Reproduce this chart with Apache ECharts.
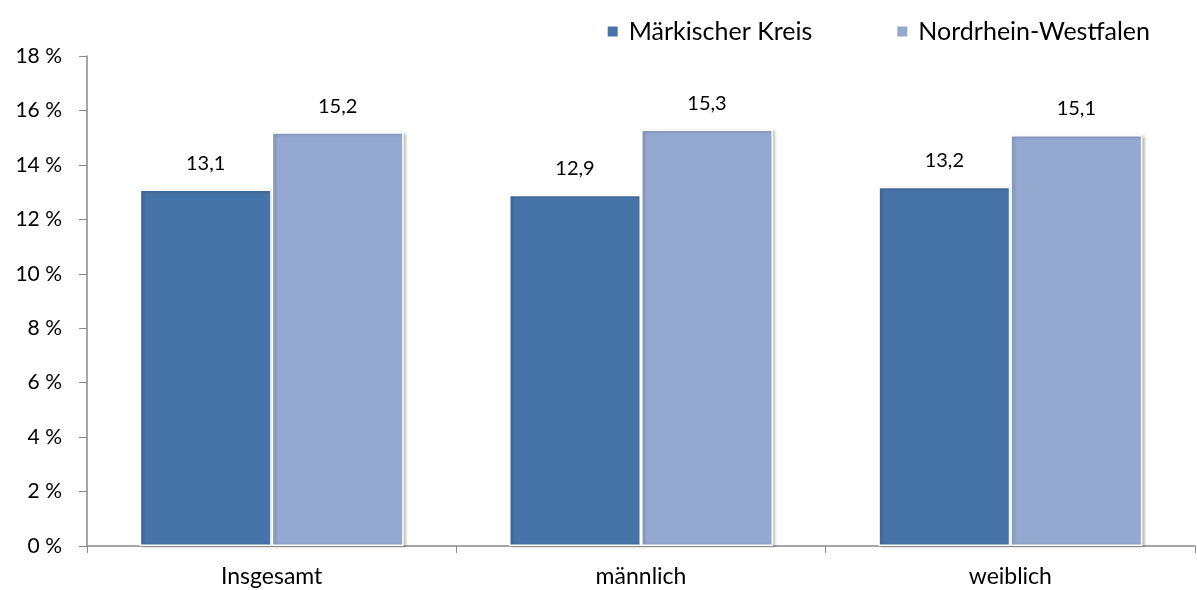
<!DOCTYPE html>
<html>
<head>
<meta charset="utf-8">
<script src="https://cdn.jsdelivr.net/npm/echarts@6/dist/echarts.min.js"></script>
<style>
  html, body { margin: 0; padding: 0; background: #fff; }
  #app { width: 1197px; height: 590px; }
</style>
</head>
<body>
<div id="app"></div>
<script>
const categories = ['Insgesamt', 'männlich', 'weiblich']
const maerkischerKreis = [13.1, 12.9, 13.2]
const nrw = [15.2, 15.3, 15.1]
const seriesNames = ['Märkischer Kreis', 'Nordrhein-Westfalen']

const font = 'Lato'
const echart = echarts.init(document.getElementById('app'))

const barStyle = (color) => ({
  color: color,
  borderColor: '#fff',
  borderWidth: 1.5,
  shadowColor: 'rgba(0,0,0,0.25)',
  shadowBlur: 3,
  shadowOffsetX: 2,
  shadowOffsetY: 1
})

const label = {
  show: true,
  position: 'top',
  distance: 16,
  fontFamily: font,
  fontSize: 20,
  color: '#000',
  formatter: (p) => p.value.toFixed(1).replace('.', ',')
}

echart.setOption({
  animation: false,
  textStyle: { fontFamily: font },
  legend: {
    top: 14,
    right: 42,
    itemWidth: 12,
    itemHeight: 12,
    itemGap: 83,
    icon: 'rect',
    textStyle: { fontFamily: font, fontSize: 25, color: '#000', padding: [0, 0, 0, 5] },
    data: seriesNames
  },
  grid: { left: 87, right: 2, top: 56, bottom: 44 },
  xAxis: {
    type: 'category',
    data: categories,
    axisLine: { lineStyle: { color: '#888', width: 1.5 } },
    axisTick: { show: true, length: 7, lineStyle: { color: '#888' } },
    axisLabel: { fontFamily: font, fontSize: 23, color: '#000', margin: 19 }
  },
  yAxis: {
    type: 'value',
    min: 0,
    max: 18,
    interval: 2,
    splitLine: { show: false },
    axisLine: { show: true, lineStyle: { color: '#888', width: 1.5 } },
    axisTick: { show: true, length: 8, lineStyle: { color: '#888' } },
    axisLabel: { fontFamily: font, fontSize: 21, color: '#000', margin: 25, formatter: '{value} %' }
  },
  series: [
    {
      name: seriesNames[0],
      type: 'bar',
      data: maerkischerKreis,
      barWidth: 132,
      barGap: '0%',
      itemStyle: barStyle('#4674a8'),
      label: label
    },
    {
      name: seriesNames[1],
      type: 'bar',
      data: nrw,
      barWidth: 132,
      barGap: '0%',
      itemStyle: barStyle('#95a9d0'),
      label: label
    }
  ]
})
</script>
</body>
</html>
